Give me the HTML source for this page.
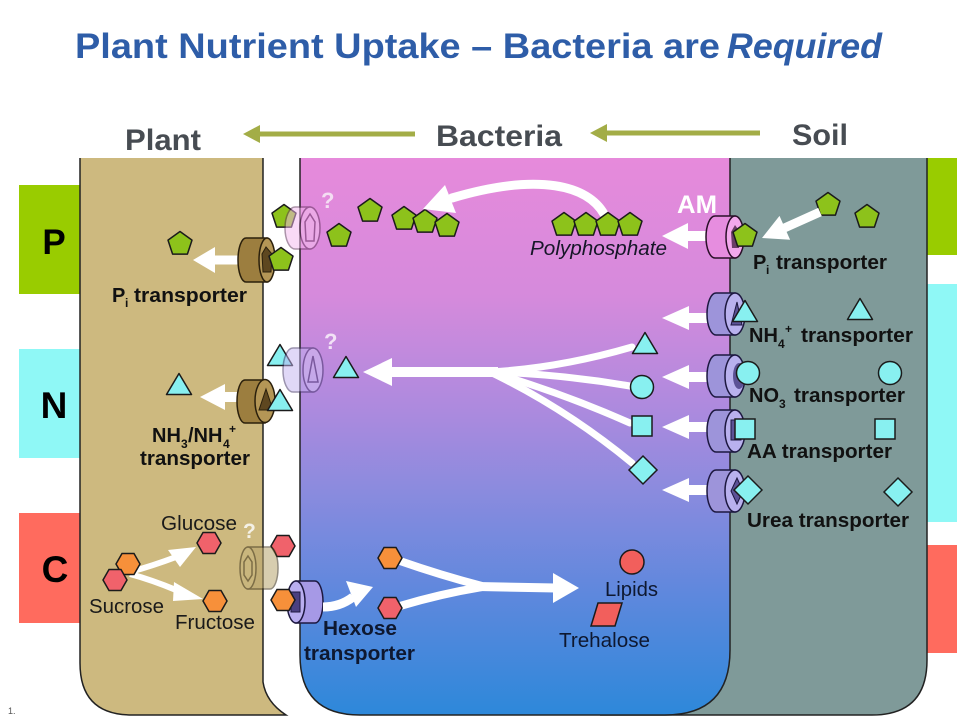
<!DOCTYPE html>
<html><head><meta charset="utf-8"><style>
html,body{margin:0;padding:0;background:#fff;}
svg{display:block;}
text{font-family:"Liberation Sans",sans-serif;}
</style></head><body>
<svg width="960" height="720" viewBox="0 0 960 720" xmlns="http://www.w3.org/2000/svg">
<defs>
<linearGradient id="bac" x1="0" y1="158" x2="0" y2="715" gradientUnits="userSpaceOnUse">
<stop offset="0" stop-color="#E68ADB"/>
<stop offset="0.25" stop-color="#D58ADC"/>
<stop offset="0.45" stop-color="#AD8ADE"/>
<stop offset="0.6" stop-color="#8A8BDE"/>
<stop offset="0.78" stop-color="#5F88DD"/>
<stop offset="1" stop-color="#2D88DA"/>
</linearGradient>
<polygon id="pent" points="0,-12.5 12,-3.9 7.4,10.1 -7.4,10.1 -12,-3.9" fill="#8DC21B" stroke="#1b1b1b" stroke-width="1.5" stroke-linejoin="round"/>
<polygon id="tri" points="0,-10.5 12.5,10.5 -12.5,10.5" fill="#88F0F0" stroke="#1b1b1b" stroke-width="1.5" stroke-linejoin="round"/>
<circle id="circ" r="11.5" fill="#88F0F0" stroke="#1b1b1b" stroke-width="1.5"/>
<rect id="sq" x="-10" y="-10" width="20" height="20" fill="#88F0F0" stroke="#1b1b1b" stroke-width="1.5"/>
<polygon id="dia" points="0,-14 14,0 0,14 -14,0" fill="#88F0F0" stroke="#1b1b1b" stroke-width="1.5"/>
<polygon id="hexr" points="-12,0 -6,-10.5 6,-10.5 12,0 6,10.5 -6,10.5" fill="#F0626B" stroke="#1b1b1b" stroke-width="1.5"/>
<polygon id="hexo" points="-12,0 -6,-10.5 6,-10.5 12,0 6,10.5 -6,10.5" fill="#F7903A" stroke="#1b1b1b" stroke-width="1.5"/>
</defs>

<!-- Title -->
<text x="75" y="58" font-size="35" font-weight="bold" fill="#2E5DA8" textLength="645" lengthAdjust="spacingAndGlyphs">Plant Nutrient Uptake – Bacteria are</text>
<text x="727" y="58" font-size="35" font-weight="bold" font-style="italic" fill="#2E5DA8" textLength="155" lengthAdjust="spacingAndGlyphs">Required</text>

<!-- headers -->
<text x="125" y="150" font-size="30" font-weight="bold" fill="#474C52" textLength="76" lengthAdjust="spacingAndGlyphs">Plant</text>
<text x="436" y="146" font-size="30" font-weight="bold" fill="#474C52" textLength="126" lengthAdjust="spacingAndGlyphs">Bacteria</text>
<text x="792" y="145" font-size="30" font-weight="bold" fill="#474C52" textLength="56" lengthAdjust="spacingAndGlyphs">Soil</text>
<!-- olive arrows -->
<line x1="415" y1="134" x2="256" y2="134" stroke="#A3AD47" stroke-width="5"/>
<polygon points="243,134 260,125 260,143" fill="#A3AD47"/>
<line x1="760" y1="133" x2="603" y2="133" stroke="#A3AD47" stroke-width="5"/>
<polygon points="590,133 607,124 607,142" fill="#A3AD47"/>

<!-- side blocks -->
<rect x="19" y="185" width="62" height="109" fill="#99CC00"/>
<rect x="19" y="349" width="62" height="109" fill="#8FF8F6"/>
<rect x="19" y="513" width="62" height="110" fill="#FF6B5E"/>
<rect x="927" y="158" width="30" height="97" fill="#99CC00"/>
<rect x="927" y="284" width="30" height="238" fill="#8FF8F6"/>
<rect x="927" y="545" width="30" height="108" fill="#FF6B5E"/>
<text x="54" y="254" font-size="35" font-weight="bold" fill="#000" text-anchor="middle">P</text>
<text x="54" y="418" font-size="37" font-weight="bold" fill="#000" text-anchor="middle">N</text>
<text x="55" y="582" font-size="37" font-weight="bold" fill="#000" text-anchor="middle">C</text>

<!-- soil -->
<path d="M600,158 L927,158 L927,660 Q927,715 872,715 L600,715 Z" fill="#7F9A99"/>
<path d="M927,158 L927,660 Q927,715 872,715 L600,715" fill="none" stroke="#222" stroke-width="1.5"/>
<!-- bacteria -->
<path d="M300,158 L730,158 L730,650 Q730,715 665,715 L360,715 Q300,715 300,655 Z" fill="url(#bac)"/>
<path d="M300,158 L300,655 Q300,715 360,715 L665,715 Q730,715 730,650 L730,158" fill="none" stroke="#222" stroke-width="1.5"/>
<!-- plant -->
<path d="M80,158 L263,158 L263,682 Q266,702 286,715 L132,715 Q80,715 80,663 Z" fill="#CDB97F"/>
<path d="M80,158 L80,663 Q80,715 132,715 L286,715 Q266,702 263,682 L263,158" fill="none" stroke="#222" stroke-width="1.5"/>

<text x="8" y="714" font-size="9" fill="#555" font-family="Liberation Mono, monospace">1.</text>

<!-- ===== P row ===== -->
<use href="#pent" x="180" y="244"/>
<polygon points="193,260 215,247 215,255.5 240,255.5 240,264.5 215,264.5 215,273" fill="#fff"/>
<!-- brown transporter P -->
<path d="M267,238 L246,238 A8,22 0 0 0 246,282 L267,282 Z" fill="#9C7E3F" stroke="#2b200c" stroke-width="1.5"/>
<ellipse cx="267" cy="260" rx="8" ry="22" fill="#B49656" stroke="#2b200c" stroke-width="1.5"/>
<polygon points="266,247 272,254 271,272 263,272 262,254" fill="#5E4720" stroke="#2b200c" stroke-width="1"/>
<use href="#pent" x="281" y="260"/>
<use href="#pent" x="284" y="217"/>
<!-- faded cylinder P -->
<g opacity="0.5">
<path d="M310,207 L295,207 A10,21 0 0 0 295,249 L310,249 Z" fill="#F4B6EE" stroke="#5a2a55" stroke-width="1.5"/>
<ellipse cx="310" cy="228" rx="10" ry="21" fill="#F7C8F2" stroke="#5a2a55" stroke-width="1.5"/>
<polygon points="310,214 315,222 314,241 306,241 305,222" fill="none" stroke="#5a2a55" stroke-width="1.5"/>
</g>
<text x="321" y="208" font-size="22" font-weight="bold" fill="#F4DDF2">?</text>
<text x="112" y="302" font-size="20" font-weight="bold" fill="#111">P</text>
<text x="125" y="307" font-size="12" font-weight="bold" fill="#111">i</text>
<text x="134" y="302" font-size="20" font-weight="bold" fill="#111" textLength="113" lengthAdjust="spacingAndGlyphs">transporter</text>

<!-- bacteria pentagons -->
<use href="#pent" x="339" y="236"/>
<use href="#pent" x="370" y="211"/>
<use href="#pent" x="404" y="219"/>
<use href="#pent" x="425" y="222"/>
<use href="#pent" x="447" y="226"/>
<!-- polyphosphate curved arrow -->
<path d="M604,214 C588,186 540,172 452,198" fill="none" stroke="#fff" stroke-width="9" stroke-linecap="round"/>
<polygon points="423,209 445,185 456,213" fill="#fff"/>
<use href="#pent" x="564" y="225"/>
<use href="#pent" x="586" y="225"/>
<use href="#pent" x="608" y="225"/>
<use href="#pent" x="630" y="225"/>
<text x="530" y="255" font-size="20" font-style="italic" fill="#161628" textLength="137" lengthAdjust="spacingAndGlyphs">Polyphosphate</text>
<text x="677" y="213" font-size="25" font-weight="bold" fill="#fff" textLength="40" lengthAdjust="spacingAndGlyphs">AM</text>
<!-- AM arrow -->
<polygon points="662,236 688,223 688,231 710,231 710,241 688,241 688,249" fill="#fff"/>
<!-- AM transporter -->
<path d="M735,216 L715,216 A9,21 0 0 0 715,258 L735,258 Z" fill="#E68DDF" stroke="#2a1028" stroke-width="1.5"/>
<ellipse cx="735" cy="237" rx="9" ry="21" fill="#F2A8EC" stroke="#2a1028" stroke-width="1.5"/>
<polygon points="735,225 740,232 739,248 732,248 731,232" fill="#6A3D66"/>
<use href="#pent" x="745" y="236"/>
<!-- soil P -->
<use href="#pent" x="828" y="205"/>
<use href="#pent" x="867" y="217"/>
<polygon points="762,238 790.1,239.7 786.6,231.9 821.8,216.1 818.2,207.9 783,223.7 779.5,215.9" fill="#fff"/>
<text x="753" y="269" font-size="20" font-weight="bold" fill="#111">P</text>
<text x="766" y="274" font-size="12" font-weight="bold" fill="#111">i</text>
<text x="776" y="269" font-size="20" font-weight="bold" fill="#111" textLength="111" lengthAdjust="spacingAndGlyphs">transporter</text>

<!-- ===== N row ===== -->
<use href="#tri" x="179" y="384"/>
<polygon points="200,397 225,384 225,392 240,392 240,402 225,402 225,410" fill="#fff"/>
<path d="M265,380 L245,380 A8,21.5 0 0 0 245,423 L265,423 Z" fill="#9C7E3F" stroke="#2b200c" stroke-width="1.5"/>
<ellipse cx="265" cy="401" rx="10" ry="21.5" fill="#B49656" stroke="#2b200c" stroke-width="1.5"/>
<polygon points="266,389 273,410 259,410" fill="#5E4720" stroke="#2b200c" stroke-width="1"/>
<use href="#tri" x="280" y="400"/>
<use href="#tri" x="280" y="355"/>
<g opacity="0.5">
<path d="M313,348 L293,348 A10,22 0 0 0 293,392 L313,392 Z" fill="#C2B2F0" stroke="#3a2a60" stroke-width="1.5"/>
<ellipse cx="313" cy="370" rx="10" ry="22" fill="#D2C6F6" stroke="#3a2a60" stroke-width="1.5"/>
<polygon points="313,356 318,382 308,382" fill="none" stroke="#3a2a60" stroke-width="1.5"/>
</g>
<text x="324" y="349" font-size="22" font-weight="bold" fill="#F2E2F6">?</text>
<use href="#tri" x="346" y="367"/>
<!-- fan arrow -->
<path d="M490,372 Q560,368 632,347" fill="none" stroke="#fff" stroke-width="7" stroke-linecap="round"/>
<path d="M490,372 Q560,374 630,386" fill="none" stroke="#fff" stroke-width="7" stroke-linecap="round"/>
<path d="M490,372 Q560,392 630,423" fill="none" stroke="#fff" stroke-width="7" stroke-linecap="round"/>
<path d="M490,372 Q565,408 632,463" fill="none" stroke="#fff" stroke-width="7" stroke-linecap="round"/>
<rect x="388" y="367" width="110" height="10" fill="#fff"/>
<polygon points="363,372 392,358 392,386" fill="#fff"/>
<use href="#tri" x="645" y="343"/>
<use href="#circ" x="642" y="387"/>
<use href="#sq" x="642" y="426"/>
<use href="#dia" x="643" y="470"/>
<!-- purple transporters -->
<polygon points="662,318 689,306 689,313 708,313 708,323 689,323 689,330" fill="#fff"/>
<polygon points="662,377 689,365 689,372 708,372 708,382 689,382 689,389" fill="#fff"/>
<polygon points="662,427 689,415 689,422 708,422 708,432 689,432 689,439" fill="#fff"/>
<polygon points="662,490 689,478 689,485 708,485 708,495 689,495 689,502" fill="#fff"/>
<g stroke="#1d1840" stroke-width="1.5">
<path d="M735,293 L716,293 A9,21 0 0 0 716,335 L735,335 Z" fill="#9D94DA"/>
<ellipse cx="735" cy="314" rx="10" ry="21" fill="#B9B1EE"/>
<path d="M735,355 L716,355 A9,21 0 0 0 716,397 L735,397 Z" fill="#9D94DA"/>
<ellipse cx="735" cy="376" rx="10" ry="21" fill="#B9B1EE"/>
<path d="M735,410 L716,410 A9,21 0 0 0 716,452 L735,452 Z" fill="#9D94DA"/>
<ellipse cx="735" cy="431" rx="10" ry="21" fill="#B9B1EE"/>
<path d="M735,470 L716,470 A9,21 0 0 0 716,512 L735,512 Z" fill="#9D94DA"/>
<ellipse cx="735" cy="491" rx="10" ry="21" fill="#B9B1EE"/>
</g>
<polygon points="737,302 742,325 731,325" fill="#5C5296" stroke="#1d1840" stroke-width="1"/>
<ellipse cx="739" cy="376" rx="6" ry="13" fill="#5C5296"/>
<rect x="731" y="420" width="10" height="20" fill="#5C5296" stroke="#1d1840" stroke-width="1"/>
<polygon points="737,478 743,491 737,504 731,491" fill="#5C5296" stroke="#1d1840" stroke-width="1"/>
<use href="#tri" x="745" y="311"/>
<use href="#circ" x="748" y="373"/>
<use href="#sq" x="745" y="429"/>
<use href="#dia" x="748" y="490"/>
<!-- soil N shapes -->
<use href="#tri" x="860" y="309"/>
<use href="#circ" x="890" y="373"/>
<use href="#sq" x="885" y="429"/>
<use href="#dia" x="898" y="492"/>
<!-- soil labels -->
<text x="749" y="342" font-size="20" font-weight="bold" fill="#111">NH</text>
<text x="778" y="348" font-size="12" font-weight="bold" fill="#111">4</text>
<text x="785" y="333" font-size="12" font-weight="bold" fill="#111">+</text>
<text x="801" y="342" font-size="20" font-weight="bold" fill="#111" textLength="112" lengthAdjust="spacingAndGlyphs">transporter</text>
<text x="749" y="402" font-size="20" font-weight="bold" fill="#111">NO</text>
<text x="779" y="408" font-size="12" font-weight="bold" fill="#111">3</text>
<text x="794" y="402" font-size="20" font-weight="bold" fill="#111" textLength="111" lengthAdjust="spacingAndGlyphs">transporter</text>
<text x="747" y="458" font-size="20" font-weight="bold" fill="#111" textLength="145" lengthAdjust="spacingAndGlyphs">AA transporter</text>
<text x="747" y="527" font-size="20" font-weight="bold" fill="#111" textLength="162" lengthAdjust="spacingAndGlyphs">Urea transporter</text>
<!-- plant N label -->
<text x="152" y="442" font-size="20" font-weight="bold" fill="#111">NH</text>
<text x="181" y="448" font-size="12" font-weight="bold" fill="#111">3</text>
<text x="188" y="442" font-size="20" font-weight="bold" fill="#111">/NH</text>
<text x="223" y="448" font-size="12" font-weight="bold" fill="#111">4</text>
<text x="229" y="433" font-size="12" font-weight="bold" fill="#111">+</text>
<text x="140" y="465" font-size="20" font-weight="bold" fill="#111" textLength="110" lengthAdjust="spacingAndGlyphs">transporter</text>

<!-- ===== C row ===== -->
<text x="161" y="530" font-size="20" fill="#1a1a1a" textLength="76" lengthAdjust="spacingAndGlyphs">Glucose</text>
<text x="243" y="538" font-size="21" font-weight="bold" fill="#F4F1E6">?</text>
<use href="#hexr" x="209" y="543"/>
<use href="#hexr" x="283" y="546"/>
<!-- sucrose arrows -->
<path d="M130,572 Q152,566 176,557" fill="none" stroke="#fff" stroke-width="6"/>
<polygon points="196,547 168,550 180,567" fill="#fff"/>
<path d="M130,574 Q152,580 176,590" fill="none" stroke="#fff" stroke-width="6"/>
<polygon points="203,599 174,582 173,601" fill="#fff"/>
<use href="#hexo" x="128" y="564"/>
<use href="#hexr" x="115" y="580"/>
<use href="#hexo" x="215" y="601"/>
<text x="89" y="613" font-size="20" fill="#1a1a1a" textLength="75" lengthAdjust="spacingAndGlyphs">Sucrose</text>
<text x="175" y="629" font-size="20" fill="#1a1a1a" textLength="80" lengthAdjust="spacingAndGlyphs">Fructose</text>
<!-- faded tan cylinder -->
<g opacity="0.55">
<path d="M248,547 L270,547 A8,21 0 0 1 270,589 L248,589 Z" fill="#B8A56E" stroke="#3a3018" stroke-width="1.5"/>
<ellipse cx="248" cy="568" rx="8" ry="21" fill="#C7B47C" stroke="#3a3018" stroke-width="1.5"/>
<polygon points="248,556 252,562 252,575 248,581 244,575 244,562" fill="none" stroke="#3a3018" stroke-width="1.5"/>
</g>
<!-- hexose transporter -->
<path d="M296,581 L315,581 A8,21 0 0 1 315,623 L296,623 Z" fill="#A699E6" stroke="#1d1840" stroke-width="1.5"/>
<ellipse cx="296" cy="602" rx="9" ry="21" fill="#B9AEF0" stroke="#1d1840" stroke-width="1.5"/>
<rect x="291" y="592" width="9" height="20" fill="#4A4080" stroke="#1d1840" stroke-width="1"/>
<use href="#hexo" x="283" y="600"/>
<path d="M323,607 Q340,607 353,597" fill="none" stroke="#fff" stroke-width="9"/>
<polygon points="373,587 346,581 356,607" fill="#fff"/>
<text x="323" y="635" font-size="20" font-weight="bold" fill="#0e1830" textLength="74" lengthAdjust="spacingAndGlyphs">Hexose</text>
<text x="304" y="660" font-size="20" font-weight="bold" fill="#0e1830" textLength="111" lengthAdjust="spacingAndGlyphs">transporter</text>
<!-- hexose fan -->
<path d="M400,561 Q440,575 482,586" fill="none" stroke="#fff" stroke-width="8"/>
<path d="M400,606 Q440,594 482,587" fill="none" stroke="#fff" stroke-width="8"/>
<path d="M478,586.5 L556,588" fill="none" stroke="#fff" stroke-width="9"/>
<polygon points="579,588 553,573 553,603" fill="#fff"/>
<use href="#hexo" x="390" y="558"/>
<use href="#hexr" x="390" y="608"/>
<circle cx="632" cy="562" r="12" fill="#F25F5C" stroke="#1b1b1b" stroke-width="1.5"/>
<text x="605" y="596" font-size="20" fill="#0e1830" textLength="53" lengthAdjust="spacingAndGlyphs">Lipids</text>
<polygon points="598,603 622,603 615,626 591,626" fill="#F25F5C" stroke="#1b1b1b" stroke-width="1.5"/>
<text x="559" y="647" font-size="20" fill="#0e1830" textLength="91" lengthAdjust="spacingAndGlyphs">Trehalose</text>
</svg>
</body></html>
